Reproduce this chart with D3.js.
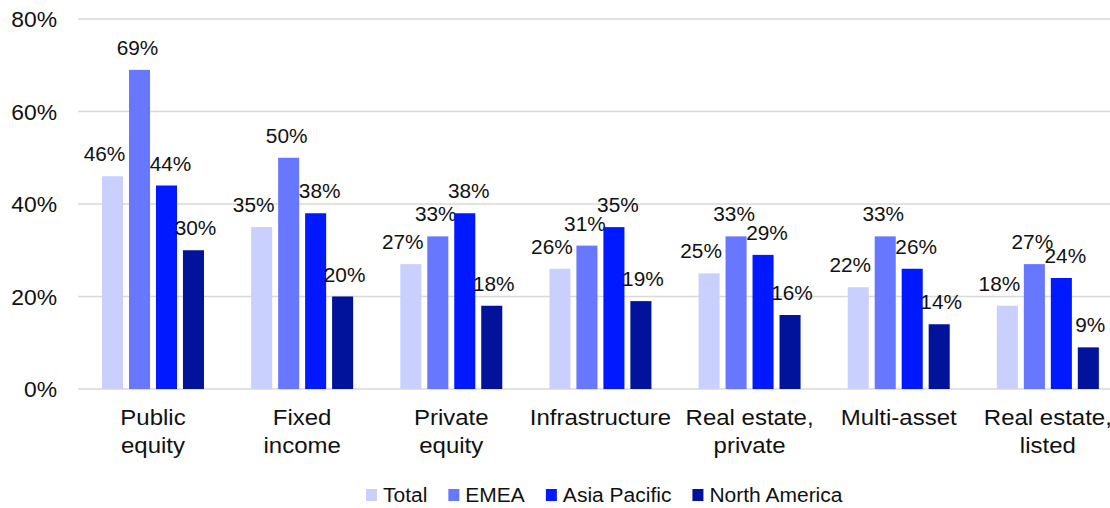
<!DOCTYPE html>
<html><head><meta charset="utf-8">
<script src="https://cdn.jsdelivr.net/npm/d3@7"></script>
<style>body{margin:0;background:#fff}svg text{font-family:"Liberation Sans",Arial,sans-serif;fill:#111}</style>
</head><body><svg id="c" width="1110" height="508"></svg>
<script>
const categories = [["Public","equity"],["Fixed","income"],["Private","equity"],["Infrastructure"],["Real estate,","private"],["Multi-asset"],["Real estate,","listed"]];
const series = ["Total","EMEA","Asia Pacific","North America"];
const total = [46,35,27,26,25,22,18];
const emea = [69,50,33,31,33,33,27];
const asiaPacific = [44,38,38,35,29,26,24];
const northAmerica = [30,20,18,19,16,14,9];
const yTicks = [0,20,40,60,80];
const colors = ["#cad0fe","#6878fe","#0019fe","#00139a"];
const values = [total, emea, asiaPacific, northAmerica];
const labelDx = [-8,-2,4,2];

function stretch(sel, f){
  sel.each(function(){
    const n = this; const L = n.getComputedTextLength();
    n.setAttribute("textLength", L*f);
    n.setAttribute("lengthAdjust","spacingAndGlyphs");
  });
}

const svg = d3.select("#c");
const catKeys = categories.map((c,i)=>i);
const x0 = d3.scaleBand().domain(catKeys).range([78,1122]).padding(0);
const x1 = d3.scaleBand().domain(series).range([24,126]).paddingInner(0.22);
const y = d3.scaleLinear().domain([0,80]).range([389,19]);

svg.append("g").selectAll("line").data(yTicks).join("line")
  .attr("x1",78).attr("x2",1110).attr("y1",d=>y(d)).attr("y2",d=>y(d))
  .attr("stroke","#d9d9d9").attr("stroke-width",1.5);
const yl = svg.append("g").selectAll("text").data(yTicks).join("text")
  .attr("x",57).attr("y",d=>y(d)+8).attr("text-anchor","end")
  .style("font-size","22px").text(d=>d+"%");
stretch(yl,1.04);

series.forEach((s,si)=>{
  const g = svg.append("g");
  g.selectAll("rect").data(values[si]).join("rect")
    .attr("x",(d,i)=>x0(i)+x1(s)).attr("width",x1.bandwidth())
    .attr("y",d=>y(d)).attr("height",d=>y(0)-y(d)).attr("fill",colors[si]);
  const t = g.selectAll("text").data(values[si]).join("text")
    .attr("x",(d,i)=>x0(i)+x1(s)+x1.bandwidth()/2+labelDx[si])
    .attr("y",d=>y(d)-15).attr("text-anchor","middle")
    .style("font-size","20px").text(d=>d+"%");
  stretch(t,1.04);
});

const cg = svg.append("g");
categories.forEach((lines,i)=>{
  lines.forEach((ln,li)=>{
    const t = cg.append("text").attr("text-anchor","middle").style("font-size","22px")
      .attr("x",x0(i)+75).attr("y",425+li*28).text(ln);
    stretch(t,1.09);
  });
});

let lx = 366;
const lg = svg.append("g");
series.forEach((s,si)=>{
  lg.append("rect").attr("x",lx).attr("y",489).attr("width",11).attr("height",12).attr("fill",colors[si]);
  const t = lg.append("text").attr("x",lx+17).attr("y",502).style("font-size","20px").text(s);
  const L = t.node().getComputedTextLength()*1.05;
  stretch(t,1.05);
  lx = lx + 17 + L + 21;
});
</script></body></html>
